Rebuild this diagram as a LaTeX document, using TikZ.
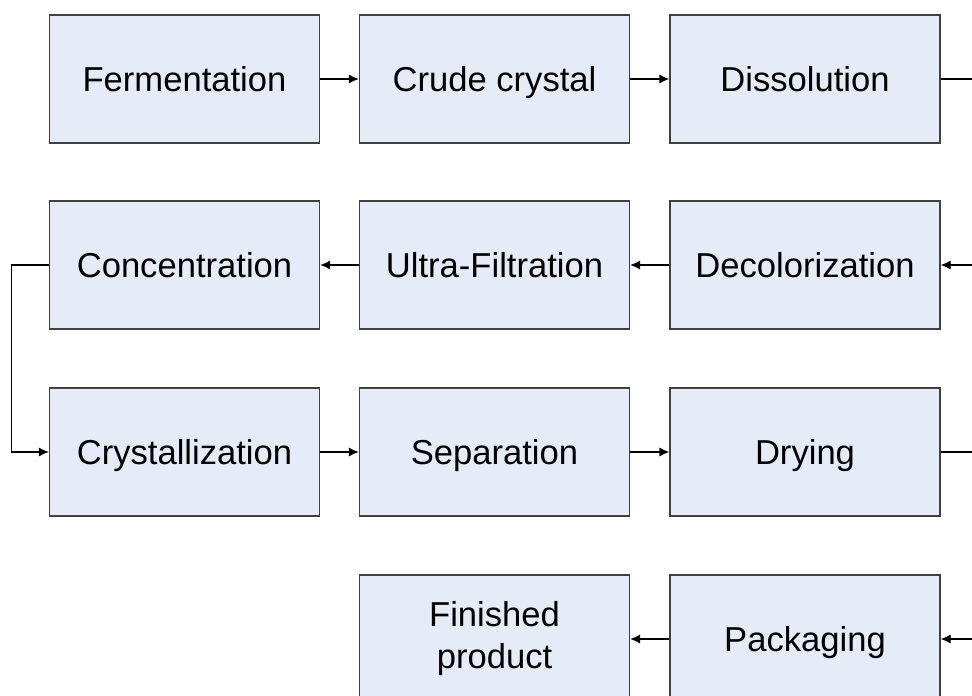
\documentclass[tikz,border=0pt]{standalone}
\usepackage{fontspec}
\setmainfont{Liberation Sans}
\usetikzlibrary{arrows.meta}
\definecolor{boxfill}{HTML}{E6ECF7}
\definecolor{boxline}{HTML}{404040}
\begin{document}
\begin{tikzpicture}[x=1pt,y=-1pt,
  procbox/.style={draw=boxline, fill=boxfill, line width=1.2pt, minimum width=270pt, minimum height=128pt, inner sep=0pt, font=\fontsize{34.6}{42}\selectfont, align=center},
  oneline/.style={procbox, text height=31pt, text depth=7pt},
  conn/.style={draw=black, line width=1.2pt, -{Latex[length=10pt,width=9pt]}},
  plainline/.style={draw=black, line width=1.2pt}]
\clip (0,0) rectangle (972,696);
\fill[white] (0,0) rectangle (972,696);
% row 1
\node[oneline] (ferm) at (184.5,79) {Fermentation};
\node[oneline] (crude) at (494.5,79) {Crude crystal};
\node[oneline] (diss) at (805,79) {Dissolution};
% row 2
\node[oneline] (conc) at (184.5,265) {Concentration};
\node[oneline] (ultra) at (494.5,265) {Ultra-Filtration};
\node[oneline] (decol) at (805,265) {Decolorization};
% row 3
\node[oneline] (cryst) at (184.5,452) {Crystallization};
\node[oneline] (sep) at (494.5,452) {Separation};
\node[oneline] (dry) at (805,452) {Drying};
% row 4
\node[procbox] (fin) at (494.5,639) {Finished\\product};
\node[oneline] (pack) at (805,639) {Packaging};
% edge coordinates
\coordinate (e1) at (975,79);
\coordinate (e2) at (975,265);
\coordinate (e3) at (975,452);
\coordinate (e4) at (975,639);
\coordinate (lx) at (11.5,265);
% connectors
\draw[conn] (ferm) -- (crude);
\draw[conn] (crude) -- (diss);
\draw[plainline] (diss) -- (e1);
\draw[conn] (e2) -- (decol);
\draw[conn] (decol) -- (ultra);
\draw[conn] (ultra) -- (conc);
\draw[conn] (conc.west) -- (lx) |- (cryst.west);
\draw[conn] (cryst) -- (sep);
\draw[conn] (sep) -- (dry);
\draw[plainline] (dry) -- (e3);
\draw[conn] (e4) -- (pack);
\draw[conn] (pack) -- (fin);
\end{tikzpicture}
\end{document}
